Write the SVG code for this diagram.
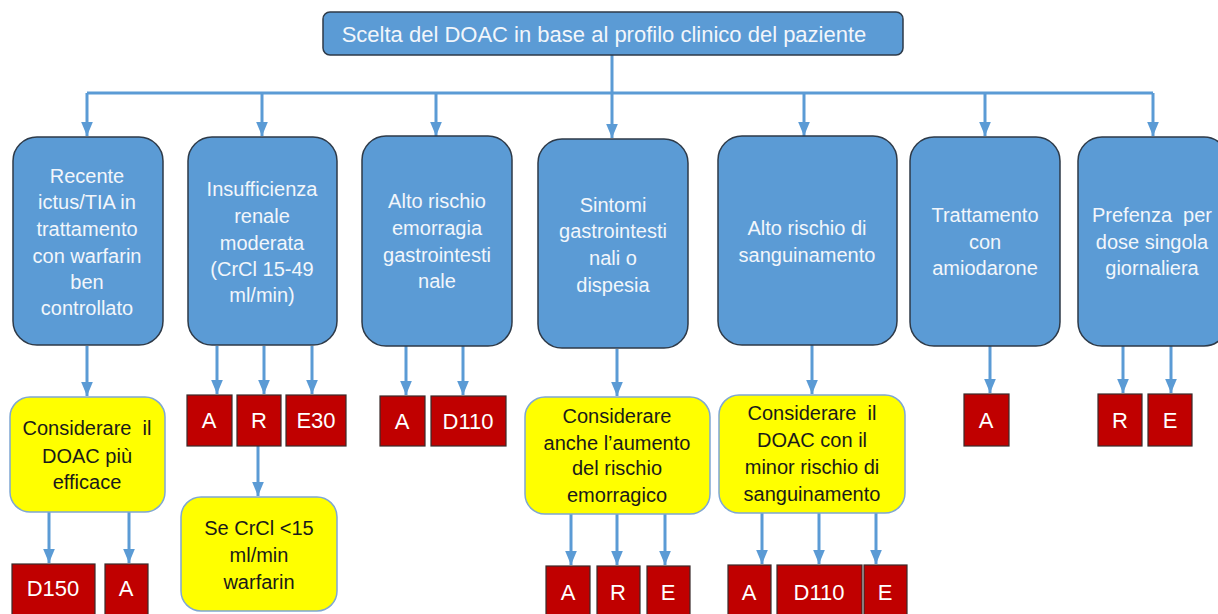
<svg xmlns="http://www.w3.org/2000/svg" width="1218" height="614" viewBox="0 0 1218 614">
<defs>
<marker id="ah" viewBox="0 0 12 10" markerWidth="14" markerHeight="12" refX="12" refY="5" orient="auto" markerUnits="userSpaceOnUse">
<path d="M0,0 L12,5 L0,10 Z" fill="#5B9BD5"/>
</marker>
<style>
text{font-family:"Liberation Sans",Arial,sans-serif;font-size:20px;text-anchor:middle;white-space:pre}
.blue{fill:#5B9BD5;stroke:#2E3A48;stroke-width:1.5}
.blue-t{fill:#F2F6FB}
.title{font-size:22px}
.yel{fill:#FFFF00;stroke:#7FA7D3;stroke-width:1.5}
.yel-t{fill:#1A1A1A}
.red{fill:#C00000;stroke:#3A2A2A;stroke-width:1.2}
.red-t{fill:#FFFFFF;font-size:22px}
.c{stroke:#5B9BD5;stroke-width:3;fill:none}
.a{stroke:#5B9BD5;stroke-width:3;fill:none;marker-end:url(#ah)}
</style>
</defs>
<rect width="1218" height="614" fill="#FFFFFF"/>

<g id="connectors">
<line class="c" x1="87" y1="93" x2="1153" y2="93"/>
<line class="a" x1="612" y1="55" x2="612" y2="138"/>
<line class="a" x1="87" y1="93" x2="87" y2="136"/>
<line class="a" x1="262" y1="93" x2="262" y2="136"/>
<line class="a" x1="436" y1="93" x2="436" y2="136"/>
<line class="a" x1="804" y1="93" x2="804" y2="136"/>
<line class="a" x1="985" y1="93" x2="985" y2="136"/>
<line class="a" x1="1153" y1="93" x2="1153" y2="136"/>

<line class="a" x1="87" y1="346" x2="87" y2="396"/>
<line class="a" x1="49" y1="512" x2="49" y2="563"/>
<line class="a" x1="129" y1="512" x2="129" y2="563"/>

<line class="a" x1="217" y1="346" x2="217" y2="394"/>
<line class="a" x1="264" y1="346" x2="264" y2="394"/>
<line class="a" x1="312" y1="346" x2="312" y2="394"/>
<line class="a" x1="258" y1="446" x2="258" y2="496"/>

<line class="a" x1="406" y1="346" x2="406" y2="395"/>
<line class="a" x1="463" y1="346" x2="463" y2="395"/>

<line class="a" x1="617" y1="349" x2="617" y2="396"/>
<line class="a" x1="571" y1="514" x2="571" y2="565"/>
<line class="a" x1="617" y1="514" x2="617" y2="565"/>
<line class="a" x1="665" y1="514" x2="665" y2="565"/>

<line class="a" x1="812" y1="345" x2="812" y2="394"/>
<line class="a" x1="762" y1="513" x2="762" y2="564"/>
<line class="a" x1="819" y1="513" x2="819" y2="564"/>
<line class="a" x1="876" y1="513" x2="876" y2="564"/>

<line class="a" x1="990" y1="346" x2="990" y2="393"/>
<line class="a" x1="1123" y1="346" x2="1123" y2="393"/>
<line class="a" x1="1171" y1="346" x2="1171" y2="393"/>
</g>

<g id="root">
<rect class="blue" x="323" y="12" width="580" height="43" rx="7"/>
<text class="blue-t title" x="604" y="42">Scelta del DOAC in base al profilo clinico del paziente</text>
</g>

<g id="b1">
<rect class="blue" x="13" y="137" width="150" height="208" rx="24"/>
<text class="blue-t" x="87" y="183">Recente</text>
<text class="blue-t" x="87" y="209">ictus/TIA in</text>
<text class="blue-t" x="87" y="236">trattamento</text>
<text class="blue-t" x="87" y="263">con warfarin</text>
<text class="blue-t" x="87" y="289">ben</text>
<text class="blue-t" x="87" y="315">controllato</text>
</g>

<g id="b2">
<rect class="blue" x="188" y="137" width="149" height="208" rx="24"/>
<text class="blue-t" x="262" y="196">Insufficienza</text>
<text class="blue-t" x="262" y="223">renale</text>
<text class="blue-t" x="262" y="250">moderata</text>
<text class="blue-t" x="262" y="276">(CrCl 15-49</text>
<text class="blue-t" x="262" y="302">ml/min)</text>
</g>

<g id="b3">
<rect class="blue" x="362" y="136" width="150" height="210" rx="24"/>
<text class="blue-t" x="437" y="208">Alto rischio</text>
<text class="blue-t" x="437" y="235">emorragia</text>
<text class="blue-t" x="437" y="262">gastrointesti</text>
<text class="blue-t" x="437" y="288">nale</text>
</g>

<g id="b4">
<rect class="blue" x="538" y="139" width="150" height="209" rx="24"/>
<text class="blue-t" x="613" y="212">Sintomi</text>
<text class="blue-t" x="613" y="238">gastrointesti</text>
<text class="blue-t" x="613" y="265">nali o</text>
<text class="blue-t" x="613" y="292">dispesia</text>
</g>

<g id="b5">
<rect class="blue" x="718" y="136" width="179" height="209" rx="24"/>
<text class="blue-t" x="807" y="235">Alto rischio di</text>
<text class="blue-t" x="807" y="262">sanguinamento</text>
</g>

<g id="b6">
<rect class="blue" x="910" y="137" width="150" height="209" rx="24"/>
<text class="blue-t" x="985" y="222">Trattamento</text>
<text class="blue-t" x="985" y="249">con</text>
<text class="blue-t" x="985" y="275">amiodarone</text>
</g>

<g id="b7">
<rect class="blue" x="1078" y="137" width="150" height="209" rx="24"/>
<text class="blue-t" x="1152" y="222">Prefenza  per</text>
<text class="blue-t" x="1152" y="249">dose singola</text>
<text class="blue-t" x="1152" y="275">giornaliera</text>
</g>

<g id="y1">
<rect class="yel" x="10" y="397" width="155" height="115" rx="20"/>
<text class="yel-t" x="87" y="435">Considerare  il</text>
<text class="yel-t" x="87" y="463">DOAC più</text>
<text class="yel-t" x="87" y="489">efficace</text>
</g>

<g id="y2">
<rect class="yel" x="181" y="497" width="156" height="114" rx="20"/>
<text class="yel-t" x="259" y="535">Se CrCl &lt;15</text>
<text class="yel-t" x="259" y="562">ml/min</text>
<text class="yel-t" x="259" y="589">warfarin</text>
</g>

<g id="y3">
<rect class="yel" x="525" y="397" width="185" height="117" rx="20"/>
<text class="yel-t" x="617" y="423">Considerare</text>
<text class="yel-t" x="617" y="450">anche l’aumento</text>
<text class="yel-t" x="617" y="475">del rischio</text>
<text class="yel-t" x="617" y="502">emorragico</text>
</g>

<g id="y4">
<rect class="yel" x="719" y="395" width="186" height="118" rx="20"/>
<text class="yel-t" x="812" y="420">Considerare  il</text>
<text class="yel-t" x="812" y="447">DOAC con il</text>
<text class="yel-t" x="812" y="474">minor rischio di</text>
<text class="yel-t" x="812" y="501">sanguinamento</text>
</g>

<g id="r-d150"><rect class="red" x="12" y="564" width="83" height="56"/><text class="red-t" x="53" y="596">D150</text></g>
<g id="r-a1"><rect class="red" x="105" y="564" width="43" height="56"/><text class="red-t" x="126" y="596">A</text></g>

<g id="r-a2"><rect class="red" x="187" y="395" width="45" height="51"/><text class="red-t" x="209" y="428">A</text></g>
<g id="r-r2"><rect class="red" x="237" y="395" width="44" height="51"/><text class="red-t" x="259" y="428">R</text></g>
<g id="r-e30"><rect class="red" x="286" y="395" width="60" height="51"/><text class="red-t" x="316" y="428">E30</text></g>

<g id="r-a3"><rect class="red" x="380" y="396" width="45" height="50"/><text class="red-t" x="402" y="429">A</text></g>
<g id="r-d110a"><rect class="red" x="431" y="396" width="75" height="50"/><text class="red-t" x="468" y="429">D110</text></g>

<g id="r-a4"><rect class="red" x="546" y="566" width="44" height="54"/><text class="red-t" x="568" y="600">A</text></g>
<g id="r-r4"><rect class="red" x="597" y="566" width="43" height="54"/><text class="red-t" x="618" y="600">R</text></g>
<g id="r-e4"><rect class="red" x="647" y="566" width="43" height="54"/><text class="red-t" x="668" y="600">E</text></g>

<g id="r-a5"><rect class="red" x="728" y="565" width="43" height="55"/><text class="red-t" x="749" y="600">A</text></g>
<g id="r-d110b"><rect class="red" x="777" y="565" width="85" height="55"/><text class="red-t" x="819" y="600">D110</text></g>
<g id="r-e5"><rect class="red" x="864" y="565" width="43" height="55"/><text class="red-t" x="885" y="600">E</text></g>

<g id="r-a6"><rect class="red" x="964" y="394" width="45" height="52"/><text class="red-t" x="986" y="428">A</text></g>
<g id="r-r7"><rect class="red" x="1098" y="394" width="44" height="52"/><text class="red-t" x="1120" y="428">R</text></g>
<g id="r-e7"><rect class="red" x="1148" y="394" width="44" height="52"/><text class="red-t" x="1170" y="428">E</text></g>
</svg>
